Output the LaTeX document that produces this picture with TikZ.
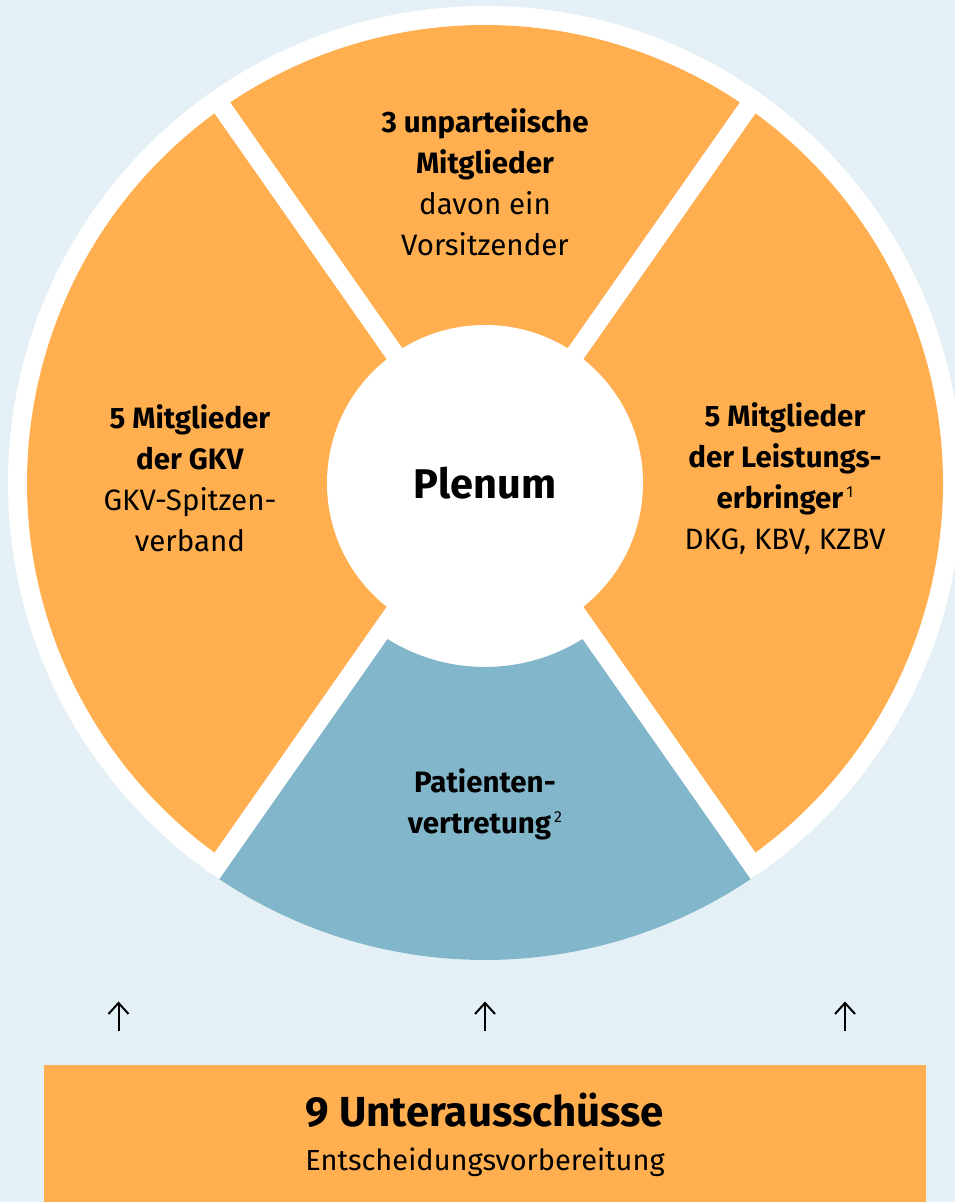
\documentclass[tikz,border=0pt]{standalone}
\usepackage{fontspec}
\setmainfont{Fira Sans}
\usetikzlibrary{arrows.meta,calc}
\definecolor{bg}{HTML}{E4F0F5}
\definecolor{org}{HTML}{FFAF4F}
\definecolor{pat}{HTML}{82B6CA}
\newcommand{\supnum}[1]{\kern3pt\raisebox{11pt}{\fontsize{16}{16}\selectfont\mdseries #1}}
\begin{document}
\begin{tikzpicture}[x=1pt,y=1pt,
  lbl/.style={align=center, font=\fontsize{29.5}{41}\selectfont, inner sep=0pt},
  gap/.style={white, line width=19pt},
  uparrow/.style={-{Straight Barb[length=11pt,width=20pt,line width=2pt]}, line width=2pt, black}]
\fill[bg] (0,0) rectangle (955,1202);
\useasboundingbox (0,0) rectangle (955,1202);
\coordinate (c) at (485,719);
\fill[white] (c) circle (477);
\fill[org] (c) -- ++(55:458) arc (55:125:458) -- cycle;
\fill[org] (c) -- ++(125:458) arc (125:235:458) -- cycle;
\fill[org] (c) -- ++(305:458) arc (305:415:458) -- cycle;
\fill[pat] ($(c)+(235:184)$) -- ($(c)+(235:477)$) arc (235:305:477) -- ($(c)+(305:184)$) arc (305:235:184) -- cycle;
\foreach \a in {55,125,235,305} \draw[gap] (c) -- ++(\a:477);
\node[circle, fill=white, minimum size=316pt, inner sep=0pt] (plenum) at (c) {\fontsize{41.5}{50}\selectfont\bfseries Plenum};
\node[lbl] (top) at (485,1020) {\textbf{3 unparteiische}\\\textbf{Mitglieder}\\davon ein\\Vorsitzender};
\node[lbl] (left) at (190,724) {\textbf{5 Mitglieder}\\\textbf{der GKV}\\GKV-Spitzen-\\verband};
\node[lbl] (right) at (785,724) {\textbf{5 Mitglieder}\\\textbf{der Leistungs-}\\\textbf{erbringer}\supnum{1}\\DKG, KBV, KZBV};
\node[lbl] (pat) at (485,398) {\textbf{Patienten-}\\\textbf{vertretung}\supnum{2}};
\fill[org] (44,0) rectangle (926,137);
\node[inner sep=0pt, font=\fontsize{42}{48}\selectfont\bfseries] (ua) at (485,92) {9 Unterausschüsse};
\node[inner sep=0pt, font=\fontsize{29}{34}\selectfont] (ub) at (485,40) {Entscheidungsvorbereitung};
\foreach \x/\n in {118.5/a,485/b,845/c} {
  \coordinate (s\n) at (\x,171);
  \coordinate (e\n) at (\x,200.5);
  \draw[uparrow] (s\n) -- (e\n);
}
\end{tikzpicture}
\end{document}
